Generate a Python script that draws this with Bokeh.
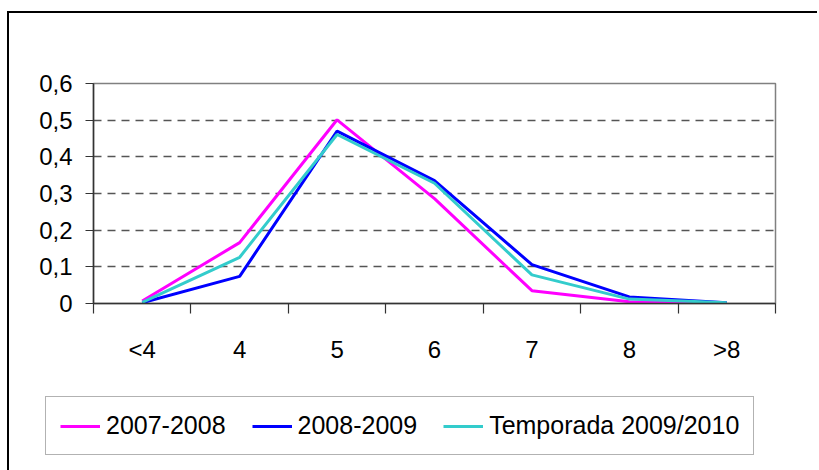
from bokeh.plotting import figure
from bokeh.models import (Range1d, FixedTicker, CustomJSTickFormatter, Legend,
                          LegendItem)
from bokeh.embed import file_html
from bokeh.resources import INLINE

# ---- data ----
categories = ["<4", "4", "5", "6", "7", "8", ">8"]
s_2007_2008 = [0.007, 0.166, 0.501, 0.286, 0.035, 0.005, 0.001]
s_2008_2009 = [0.002, 0.074, 0.470, 0.335, 0.106, 0.018, 0.002]
s_2009_2010 = [0.003, 0.126, 0.461, 0.328, 0.078, 0.012, 0.002]
series_names = ["2007-2008", "2008-2009", "Temporada 2009/2010"]
y_ticks = [0, 0.1, 0.2, 0.3, 0.4, 0.5, 0.6]
y_tick_labels = ["0", "0,1", "0,2", "0,3", "0,4", "0,5", "0,6"]

FONT = "Liberation Sans"
n = len(categories)
xs = [i + 0.5 for i in range(n)]
series = [s_2007_2008, s_2008_2009, s_2009_2010]
colors = ["#FF00FF", "#0000FF", "#33CCCC"]
widths = [3, 3, 3]

p = figure(width=810, height=372, output_backend="svg", toolbar_location=None,
           x_range=Range1d(0, n), y_range=Range1d(y_ticks[0], y_ticks[-1]),
           min_border_left=84, min_border_right=44, min_border_top=70,
           min_border_bottom=82, background_fill_color="white",
           border_fill_color="white")
# outer chart-area border: left + top edges via box shadows
p.styles = {"margin-left": "9px", "margin-top": "13px",
            "box-shadow": "-2px -2px 0 0 black, -2px 0 0 0 black"}

p.outline_line_color = "#808080"
p.outline_line_width = 1.5

# x axis: labels at category centres, ticks at boundaries (minor)
xa = p.xaxis[0]
xa.ticker = FixedTicker(ticks=xs, minor_ticks=list(range(n + 1)))
xa.formatter = CustomJSTickFormatter(args=dict(cats=categories),
                                     code="return cats[Math.round(tick - 0.5)];")
xa.major_tick_out = 0
xa.major_tick_in = 0
xa.minor_tick_out = 10
xa.minor_tick_in = 0
xa.minor_tick_line_color = "#333333"
xa.minor_tick_line_width = 1.2
xa.axis_line_color = "#333333"
xa.axis_line_width = 1.5
xa.major_label_standoff = 22
xa.major_label_text_font = FONT
xa.major_label_text_font_size = "24px"
xa.major_label_text_color = "black"

ya = p.yaxis[0]
ya.ticker = FixedTicker(ticks=y_ticks, minor_ticks=[])
ya.formatter = CustomJSTickFormatter(
    args=dict(yv=y_ticks, ylab=y_tick_labels),
    code="""let b = 0; for (let i = 0; i < yv.length; i++) {
              if (Math.abs(yv[i] - tick) < Math.abs(yv[b] - tick)) b = i; }
            return ylab[b];""")
ya.major_tick_out = 8
ya.major_tick_in = 0
ya.major_tick_line_color = "#333333"
ya.major_tick_line_width = 1.2
ya.axis_line_color = "#333333"
ya.axis_line_width = 1.5
ya.major_label_standoff = 13
ya.major_label_text_font = FONT
ya.major_label_text_font_size = "24px"
ya.major_label_text_color = "black"

p.xgrid.visible = False
p.ygrid.ticker = FixedTicker(ticks=y_ticks[1:-1])
p.ygrid.grid_line_color = "#555555"
p.ygrid.grid_line_width = 1.3
p.ygrid.grid_line_dash = "8 6"

for vals, c, w in zip(series, colors, widths):
    p.line(xs, vals, line_color=c, line_width=w)

# ---- legend strip (separate root so its legend is not clipped to a frame) ----
pl = figure(width=810, height=85, output_backend="svg", toolbar_location=None,
            x_range=Range1d(0, n), y_range=Range1d(10, 11),
            x_axis_location=None, y_axis_location=None,
            min_border_left=0, min_border_right=0, min_border_top=0,
            min_border_bottom=0, background_fill_color="white",
            border_fill_color="white", outline_line_color=None)
pl.styles = {"margin-left": "9px", "box-shadow": "-2px 0 0 0 black"}
pl.xgrid.visible = False
pl.ygrid.visible = False
# same series (outside this strip's visible range) – only their legend glyphs show
leg_renderers = [pl.line(xs, vals, line_color=c, line_width=w)
                 for vals, c, w in zip(series, colors, widths)]
legend = Legend(items=[LegendItem(label=nm, renderers=[r]) for nm, r in zip(series_names, leg_renderers)],
                orientation="horizontal", location=(36, 15),
                label_text_font=FONT, label_text_font_size="25px",
                label_text_color="black", label_standoff=6,
                glyph_width=40, glyph_height=20, spacing=26, padding=14, margin=0,
                border_line_color="#666666", border_line_width=1.5,
                background_fill_color="white", background_fill_alpha=1.0)
pl.add_layout(legend, "center")

open("out.html", "w").write(file_html([p, pl], INLINE))
